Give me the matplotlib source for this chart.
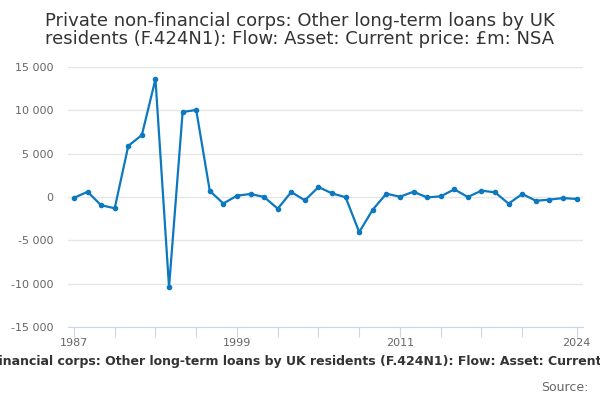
import matplotlib.pyplot as plt
from matplotlib.ticker import FuncFormatter

years = list(range(1987, 2025))
values = [-100, 600, -950, -1300, 5900, 7150, 13600, -10400, 9800, 10050,
          700, -750, 150, 350, 0, -1350, 580, -390, 1150, 420,
          -30, -4050, -1450, 380, 30, 610, -50, 80, 880, 0,
          730, 540, -770, 350, -430, -310, -120, -230]

title = ("Private non-financial corps: Other long-term loans by UK\n"
         "residents (F.424N1): Flow: Asset: Current price: £m: NSA")
footer = ("Private non-financial corps: Other long-term loans by UK residents "
          "(F.424N1): Flow: Asset: Current price: £m: NSA")

fig = plt.figure(figsize=(6, 4), dpi=100)
ax = fig.add_axes([0.1133, 0.1825, 0.8587, 0.65])

ax.plot(years, values, color="#0b78c0", lw=1.6, marker="o", ms=3,
        zorder=3, clip_on=False)

ax.set_ylim(-15000, 15000)
ax.set_yticks(range(-15000, 15001, 5000))
ax.yaxis.set_major_formatter(FuncFormatter(lambda v, p: f"{int(v):,}".replace(",", " ")))
ax.set_xlim(1986.56, 2024.49)

# ticks every 3 years plus the last year, labels only on some
ticks = list(range(1987, 2021, 3)) + [2024]
ax.set_xticks(ticks)
ax.set_xticklabels([str(t) if t in (1987, 1999, 2011, 2024) else "" for t in ticks])

ax.grid(axis="y", color="#e6e6e6", lw=1)
ax.set_axisbelow(True)
for s in ("top", "right", "left"):
    ax.spines[s].set_visible(False)
ax.spines["bottom"].set_color("#ccd6eb")
ax.spines["bottom"].set_position(("data", -15000))
ax.tick_params(axis="y", length=0, labelsize=8, labelcolor="#666666", pad=10.5)
ax.tick_params(axis="x", length=7, color="#ccd6eb", labelsize=8,
               labelcolor="#666666", pad=1)

fig.text(0.5, 0.925, title, ha="center", va="center", fontsize=13,
         color="#333333", linespacing=1.05)
# footer runs off both edges, as in the original
fig.text(0.515, 0.095, footer, ha="center", va="center", fontsize=9,
         fontweight="bold", color="#333333")
fig.text(0.98, 0.032, "Source:", ha="right", va="center", fontsize=9,
         color="#666666")

fig.savefig("out.png", dpi=100)
